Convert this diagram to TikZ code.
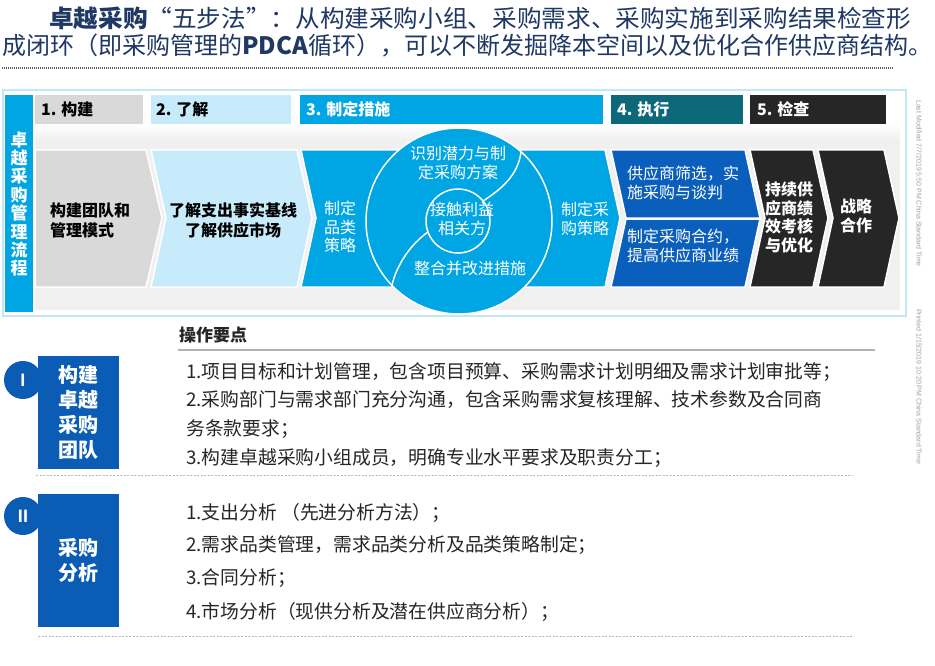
\documentclass[tikz,border=0pt]{standalone}
\usepackage{graphicx}
\usepackage{fontspec}
\setmainfont{Noto Sans CJK SC}
\setsansfont{Liberation Sans}
\definecolor{barblue}{HTML}{00A6E4}
\definecolor{lgray}{HTML}{D9D9D9}
\definecolor{lblue}{HTML}{C7EBFA}
\definecolor{dblue}{HTML}{0A5EBC}
\definecolor{tealtab}{HTML}{0D6879}
\definecolor{darkbox}{HTML}{262626}
\definecolor{navy}{HTML}{1F3864}
\definecolor{boxblue}{HTML}{0B5CB4}
\definecolor{panelborder}{HTML}{BFE8F8}
\definecolor{bandgray}{HTML}{F0F0F0}
\definecolor{bodytext}{HTML}{262626}
\tikzset{
  tabtext/.style={anchor=west, inner sep=0pt, font=\bfseries\fontsize{16}{19}\selectfont},
  chev/.style={draw=white, line width=1.5pt},
  chevtext/.style={align=center, inner sep=0pt, font=\fontsize{16}{19}\selectfont},
  chevbold/.style={align=center, inner sep=0pt, font=\bfseries\fontsize{16}{19}\selectfont},
  bodyline/.style={anchor=west, inner sep=0pt, text=bodytext, font=\fontsize{18.8}{22}\selectfont},
  blocklabel/.style={align=center, inner sep=0pt, text=white, font=\bfseries\fontsize{20}{25}\selectfont},
  badge/.style={circle, fill=boxblue, minimum size=38pt, inner sep=0pt, text=white, font=\sffamily\bfseries\fontsize{18}{20}\selectfont},
  sepline/.style={gray!55, line width=0.6pt, dash pattern=on 2pt off 1.5pt},
  sidetext/.style={rotate=-90, anchor=west, inner sep=0pt, text=gray!75, font=\sffamily\fontsize{7}{8}\selectfont},
  ringline/.style={white, line width=1.5pt},
  titletext/.style={anchor=west, inner sep=0pt, text=navy, font=\fontsize{24}{28}\selectfont}
}
\begin{document}
\begin{tikzpicture}[x=1pt,y=-1pt]
\path[use as bounding box] (0,0) rectangle (935,666);
\fill[white] (0,0) rectangle (935,666);

% title
\node[titletext] (title1) at (49,18)
  {\resizebox{862pt}{\height}{\textbf{卓越采购}“五步法”：从构建采购小组、采购需求、采购实施到采购结果检查形}};
\node[titletext] (title2) at (2,46)
  {\resizebox{930pt}{\height}{成闭环（即采购管理的\textbf{PDCA}循环），可以不断发掘降本空间以及优化合作供应商结构。}};
\draw[gray!70!black, line width=1.2pt, dash pattern=on 1pt off 1pt] (2,68) -- (893,68);

% panel
\draw[panelborder, line width=2pt, fill=white] (3,90) rectangle (906,316);
\fill[bandgray] (35,127) rectangle (900,310);
\shade[top color=white, bottom color=bandgray] (35,124) rectangle (900,140);

% left bar
\fill[barblue] (5,95) rectangle (33,312);
\node[align=center, inner sep=0pt, text=white, font=\bfseries\fontsize{17}{18.4}\selectfont] (vbar) at (19,204)
  {卓\\越\\采\\购\\管\\理\\流\\程};

% tabs
\fill[lgray] (35,95) rectangle (143,124);
\node[tabtext, text=black] (tab1) at (41,109.5) {1. 构建};
\fill[lblue] (151,95) rectangle (291,124);
\node[tabtext, text=black] (tab2) at (156,109.5) {2. 了解};
\fill[barblue] (300,95) rectangle (603,124);
\node[tabtext, text=white] (tab3) at (306,109.5) {3. 制定措施};
\fill[tealtab] (611,95) rectangle (743,124);
\node[tabtext, text=white] (tab4) at (617,109.5) {4. 执行};
\fill[darkbox] (750,95) rectangle (886,124);
\node[tabtext, text=white] (tab5) at (757,109.5) {5. 检查};

% chevrons
\filldraw[chev, fill=lgray] (35,150) -- (146,150) -- (162,218) -- (146,287) -- (35,287) -- cycle;
\filldraw[chev, fill=lblue] (151,150) -- (297,150) -- (312,218) -- (297,287) -- (151,287) -- (166,218) -- cycle;
\filldraw[chev, fill=barblue] (301,150) -- (605,150) -- (620,218) -- (605,287) -- (301,287) -- (316,218) -- cycle;
\filldraw[chev, fill=dblue] (611,150) -- (745,150) -- (760,218) -- (626,218) -- cycle;
\filldraw[chev, fill=dblue] (626,219) -- (760,219) -- (745,287) -- (611,287) -- cycle;
\filldraw[chev, fill=darkbox] (750,150) -- (813,150) -- (828,218) -- (813,287) -- (750,287) -- (765,218) -- cycle;
\filldraw[chev, fill=darkbox] (818,150) -- (884,150) -- (899,218) -- (884,287) -- (818,287) -- (833,218) -- cycle;

% circle
\filldraw[ringline, fill=barblue] (459,221) circle[radius=93pt];
\draw[ringline] (458,221) circle[radius=32pt];
\draw[ringline] (483,201) .. controls (500,190) and (518,176) .. (521,152);
\draw[ringline] (428,232) .. controls (411,244) and (397,264) .. (392,285);

% chevron texts
\node[chevbold, anchor=west, align=left, text=black, font=\bfseries\fontsize{16}{20}\selectfont] (c1) at (50,220) {构建团队和\\管理模式};
\node[chevbold, text=black, font=\bfseries\fontsize{16}{20}\selectfont] (c2) at (233,220) {了解支出事实基线\\了解供应市场};
\node[chevtext, text=white, font=\fontsize{16}{18.5}\selectfont] (c3a) at (340,227) {制定\\品类\\策略};
\node[chevtext, text=white] (c3b) at (585,219) {制定采\\购策略};
\node[chevtext, text=white] (r1) at (458,162.5) {识别潜力与制\\定采购方案};
\node[chevtext, text=white] (r2) at (462,219) {接触利益\\相关方};
\node[chevtext, text=white] (r3) at (470,268) {整合并改进措施};
\node[chevtext, anchor=west, align=left, text=white] (c4a) at (627,182.5) {供应商筛选，实\\施采购与谈判};
\node[chevtext, anchor=west, align=left, text=white] (c4b) at (627,246) {制定采购合约，\\提高供应商业绩};
\node[chevbold, text=white, font=\bfseries\fontsize{16}{18.5}\selectfont] (c5) at (789,217.5) {持续供\\应商绩\\效考核\\与优化};
\node[chevbold, text=white, font=\bfseries\fontsize{16}{18.5}\selectfont] (c6) at (856,216) {战略\\合作};

% side notes
\node[sidetext] (lastmod) at (919,100) {Last Modified 7/7/2019 5:50 PM China Standard Time};
\node[sidetext] (printed) at (919,309) {Printed 1/15/2019 10:20 PM China Standard Time};

% lower section
\node[anchor=west, inner sep=0pt, text=bodytext, font=\bfseries\fontsize{17}{20}\selectfont] (ops) at (179,335) {操作要点};
\draw[gray!60, line width=1.5pt] (178,350) -- (875,350);

\node[badge] (badge1) at (23,380) {I};
\fill[boxblue] (38,356) rectangle (119,469);
\node[blocklabel] (lab1) at (78.5,412.5) {构建\\卓越\\采购\\团队};

\node[bodyline] (l11) at (186,372) {1.项目目标和计划管理，包含项目预算、采购需求计划明细及需求计划审批等；};
\node[bodyline] (l12) at (186,400) {2.采购部门与需求部门充分沟通，包含采购需求复核理解、技术参数及合同商};
\node[bodyline] (l13) at (186,429) {务条款要求；};
\node[bodyline] (l14) at (186,458) {3.构建卓越采购小组成员，明确专业水平要求及职责分工；};
\draw[sepline] (36,475) -- (852,475);

\node[badge] (badge2) at (23,516) {II};
\fill[boxblue] (38,494) rectangle (119,627);
\node[blocklabel] (lab2) at (78.5,560) {采购\\分析};

\node[bodyline] (l21) at (186,513) {1.支出分析 （先进分析方法）；};
\node[bodyline] (l22) at (186,545) {2.需求品类管理，需求品类分析及品类策略制定；};
\node[bodyline] (l23) at (186,578) {3.合同分析；};
\node[bodyline] (l24) at (186,612) {4.市场分析（现供分析及潜在供应商分析）；};
\draw[sepline] (38,636) -- (853,636);
\end{tikzpicture}
\end{document}
